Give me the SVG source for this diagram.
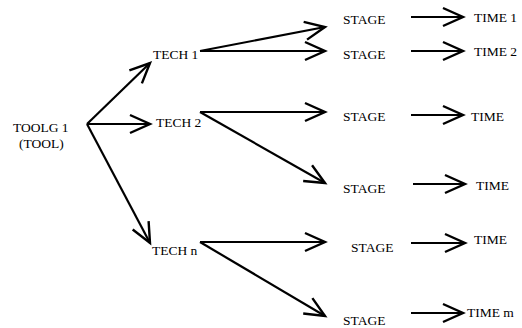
<svg xmlns="http://www.w3.org/2000/svg" width="522" height="328" viewBox="0 0 522 328">
<style>
text{font-family:'Liberation Serif','DejaVu Serif',serif;font-size:13.5px;fill:#000}
.c line{stroke:#000;stroke-width:2.2;marker-end:url(#ah)}
</style>
<defs>
<marker id="ah" markerUnits="userSpaceOnUse" orient="auto" refX="0" refY="0" markerWidth="30" markerHeight="30" overflow="visible">
<path d="M-20,-9 L0,0 L-20,9" fill="none" stroke="#000" stroke-width="2.4" stroke-linejoin="miter"/>
</marker>
</defs>
<rect width="522" height="328" fill="#fff"/>
<g class="c" id="connectors">
<line x1="87" y1="124" x2="150" y2="63"/>
<line x1="87" y1="124" x2="150" y2="124"/>
<line x1="87" y1="124" x2="150" y2="243"/>
<line x1="200" y1="51" x2="325" y2="27"/>
<line x1="200" y1="51" x2="325" y2="51"/>
<line x1="200" y1="112" x2="325" y2="112"/>
<line x1="200" y1="112" x2="325" y2="183"/>
<line x1="200" y1="242" x2="325" y2="242"/>
<line x1="200" y1="242" x2="325" y2="316"/>
<line x1="411" y1="17" x2="463" y2="17"/>
<line x1="411" y1="51" x2="463" y2="51"/>
<line x1="411" y1="115" x2="463" y2="115"/>
<line x1="413" y1="184" x2="465" y2="184"/>
<line x1="411" y1="243" x2="465" y2="243"/>
<line x1="411" y1="313" x2="463" y2="313"/>
</g>
<g id="toolg"><text x="13" y="132">TOOLG 1</text><text x="19" y="148">(TOOL)</text></g>
<g id="tech1"><text x="153" y="59">TECH 1</text></g>
<g id="tech2"><text x="156" y="127">TECH 2</text></g>
<g id="techn"><text x="152" y="255">TECH n</text></g>
<g id="stage1"><text x="343" y="24">STAGE</text></g>
<g id="stage2"><text x="343" y="59">STAGE</text></g>
<g id="stage3"><text x="343" y="121">STAGE</text></g>
<g id="stage4"><text x="343" y="193">STAGE</text></g>
<g id="stage5"><text x="351" y="252">STAGE</text></g>
<g id="stage6"><text x="343" y="325">STAGE</text></g>
<g id="time1"><text x="474" y="22">TIME 1</text></g>
<g id="time2"><text x="474" y="56">TIME 2</text></g>
<g id="time3"><text x="471" y="121">TIME</text></g>
<g id="time4"><text x="476" y="190">TIME</text></g>
<g id="time5"><text x="474" y="244">TIME</text></g>
<g id="time6"><text x="467" y="317">TIME m</text></g>
</svg>
